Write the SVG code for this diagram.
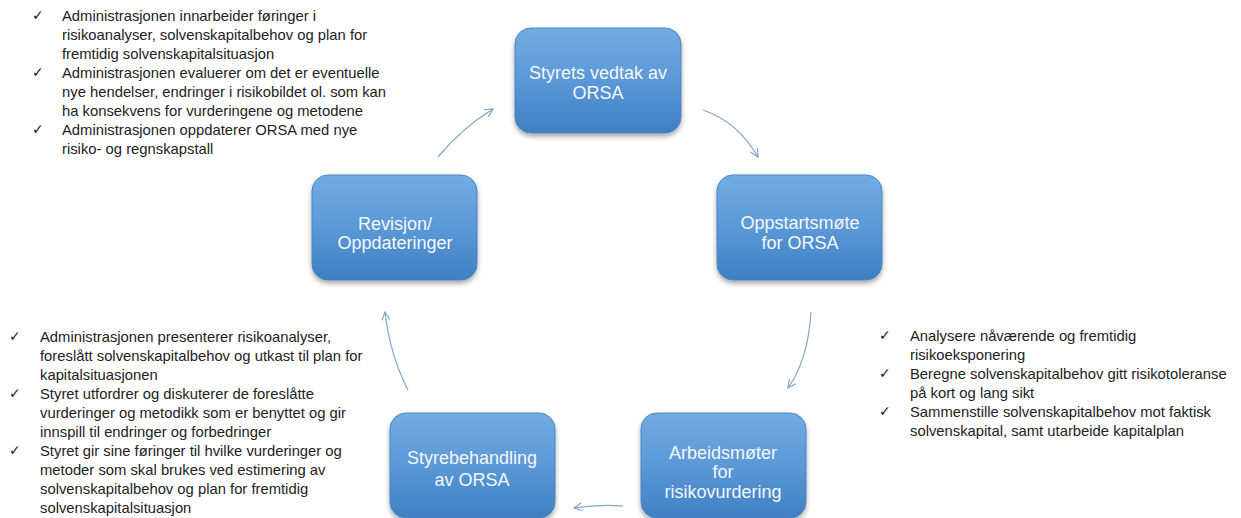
<svg xmlns="http://www.w3.org/2000/svg" width="1241" height="518" viewBox="0 0 1241 518">
<defs>
<linearGradient id="bg" x1="0" y1="0" x2="0" y2="1">
<stop offset="0" stop-color="#72ace2"/>
<stop offset="0.5" stop-color="#5b98d6"/>
<stop offset="1" stop-color="#3f7fc2"/>
</linearGradient>
<filter id="sh" x="-10%" y="-10%" width="120%" height="130%">
<feDropShadow dx="0" dy="3" stdDeviation="2.5" flood-color="#000" flood-opacity="0.35"/>
</filter>
<marker id="ah" viewBox="0 0 10 10" refX="9" refY="5" markerWidth="10" markerHeight="10" markerUnits="userSpaceOnUse" orient="auto">
<path d="M1,1 L9,5 L1,9" fill="none" stroke="#7fa5c9" stroke-width="1.2"/>
</marker>
<style>
.box{fill:url(#bg);stroke:#4a85c3;stroke-width:1;filter:url(#sh)}
.bt{font-family:"Liberation Sans",Arial,sans-serif;font-size:18px;fill:#f3f7fc;text-anchor:middle}
.tx{font-family:"Liberation Sans",Arial,sans-serif;font-size:14.8px;fill:#222}
.ck{font-family:"DejaVu Sans",sans-serif;font-size:14px;fill:#222}
.cn{fill:none;stroke:#7fa5c9;stroke-width:1.2;marker-end:url(#ah)}
</style>
</defs>
<rect width="1241" height="518" fill="#fff"/>

<g id="connectors">
<path class="cn" d="M438,157 Q462,128 493,109"/>
<path class="cn" d="M703,110 Q738,122 758,157"/>
<path class="cn" d="M811,312 Q808,360 788,388"/>
<path class="cn" d="M623,506 Q600,504 574,508"/>
<path class="cn" d="M408,390 Q390,355 385,312"/>
</g>

<g id="node-vedtak">
<rect class="box" x="515" y="28" width="166" height="105" rx="16"/>
<text class="bt" x="598" y="79">Styrets vedtak av</text>
<text class="bt" x="598" y="99">ORSA</text>
</g>

<g id="node-oppstart">
<rect class="box" x="717" y="175" width="165" height="105" rx="16"/>
<text class="bt" x="800" y="229">Oppstartsmøte</text>
<text class="bt" x="800" y="249">for ORSA</text>
</g>

<g id="node-arbeid">
<rect class="box" x="641" y="413" width="165" height="105" rx="16"/>
<text class="bt" x="723" y="459">Arbeidsmøter</text>
<text class="bt" x="723" y="478">for</text>
<text class="bt" x="723" y="498">risikovurdering</text>
</g>

<g id="node-styrebehandling">
<rect class="box" x="390" y="413" width="165" height="105" rx="16"/>
<text class="bt" x="472" y="464">Styrebehandling</text>
<text class="bt" x="472" y="486">av ORSA</text>
</g>

<g id="node-revisjon">
<rect class="box" x="312" y="175" width="165" height="105" rx="16"/>
<text class="bt" x="395" y="230">Revisjon/</text>
<text class="bt" x="395" y="249">Oppdateringer</text>
</g>

<g id="notes-top-left">
<text class="ck" x="32" y="20">✓</text>
<text class="ck" x="32" y="77">✓</text>
<text class="ck" x="32" y="134">✓</text>
<text class="tx" x="62" y="21">Administrasjonen innarbeider føringer i</text>
<text class="tx" x="62" y="40">risikoanalyser, solvenskapitalbehov og plan for</text>
<text class="tx" x="62" y="59">fremtidig solvenskapitalsituasjon</text>
<text class="tx" x="62" y="78">Administrasjonen evaluerer om det er eventuelle</text>
<text class="tx" x="62" y="97">nye hendelser, endringer i risikobildet ol. som kan</text>
<text class="tx" x="62" y="116">ha konsekvens for vurderingene og metodene</text>
<text class="tx" x="62" y="135">Administrasjonen oppdaterer ORSA med nye</text>
<text class="tx" x="62" y="154">risiko- og regnskapstall</text>
</g>

<g id="notes-right">
<text class="ck" x="879" y="340">✓</text>
<text class="ck" x="879" y="378">✓</text>
<text class="ck" x="879" y="416">✓</text>
<text class="tx" x="910" y="341">Analysere nåværende og fremtidig</text>
<text class="tx" x="910" y="360">risikoeksponering</text>
<text class="tx" x="910" y="379">Beregne solvenskapitalbehov gitt risikotoleranse</text>
<text class="tx" x="910" y="398">på kort og lang sikt</text>
<text class="tx" x="910" y="417">Sammenstille solvenskapitalbehov mot faktisk</text>
<text class="tx" x="910" y="436">solvenskapital, samt utarbeide kapitalplan</text>
</g>

<g id="notes-bottom-left">
<text class="ck" x="9" y="341">✓</text>
<text class="ck" x="9" y="398">✓</text>
<text class="ck" x="9" y="455">✓</text>
<text class="tx" x="40" y="342">Administrasjonen presenterer risikoanalyser,</text>
<text class="tx" x="40" y="361">foreslått solvenskapitalbehov og utkast til plan for</text>
<text class="tx" x="40" y="380">kapitalsituasjonen</text>
<text class="tx" x="40" y="399">Styret utfordrer og diskuterer de foreslåtte</text>
<text class="tx" x="40" y="418">vurderinger og metodikk som er benyttet og gir</text>
<text class="tx" x="40" y="437">innspill til endringer og forbedringer</text>
<text class="tx" x="40" y="456">Styret gir sine føringer til hvilke vurderinger og</text>
<text class="tx" x="40" y="475">metoder som skal brukes ved estimering av</text>
<text class="tx" x="40" y="494">solvenskapitalbehov og plan for fremtidig</text>
<text class="tx" x="40" y="513">solvenskapitalsituasjon</text>
</g>
</svg>
